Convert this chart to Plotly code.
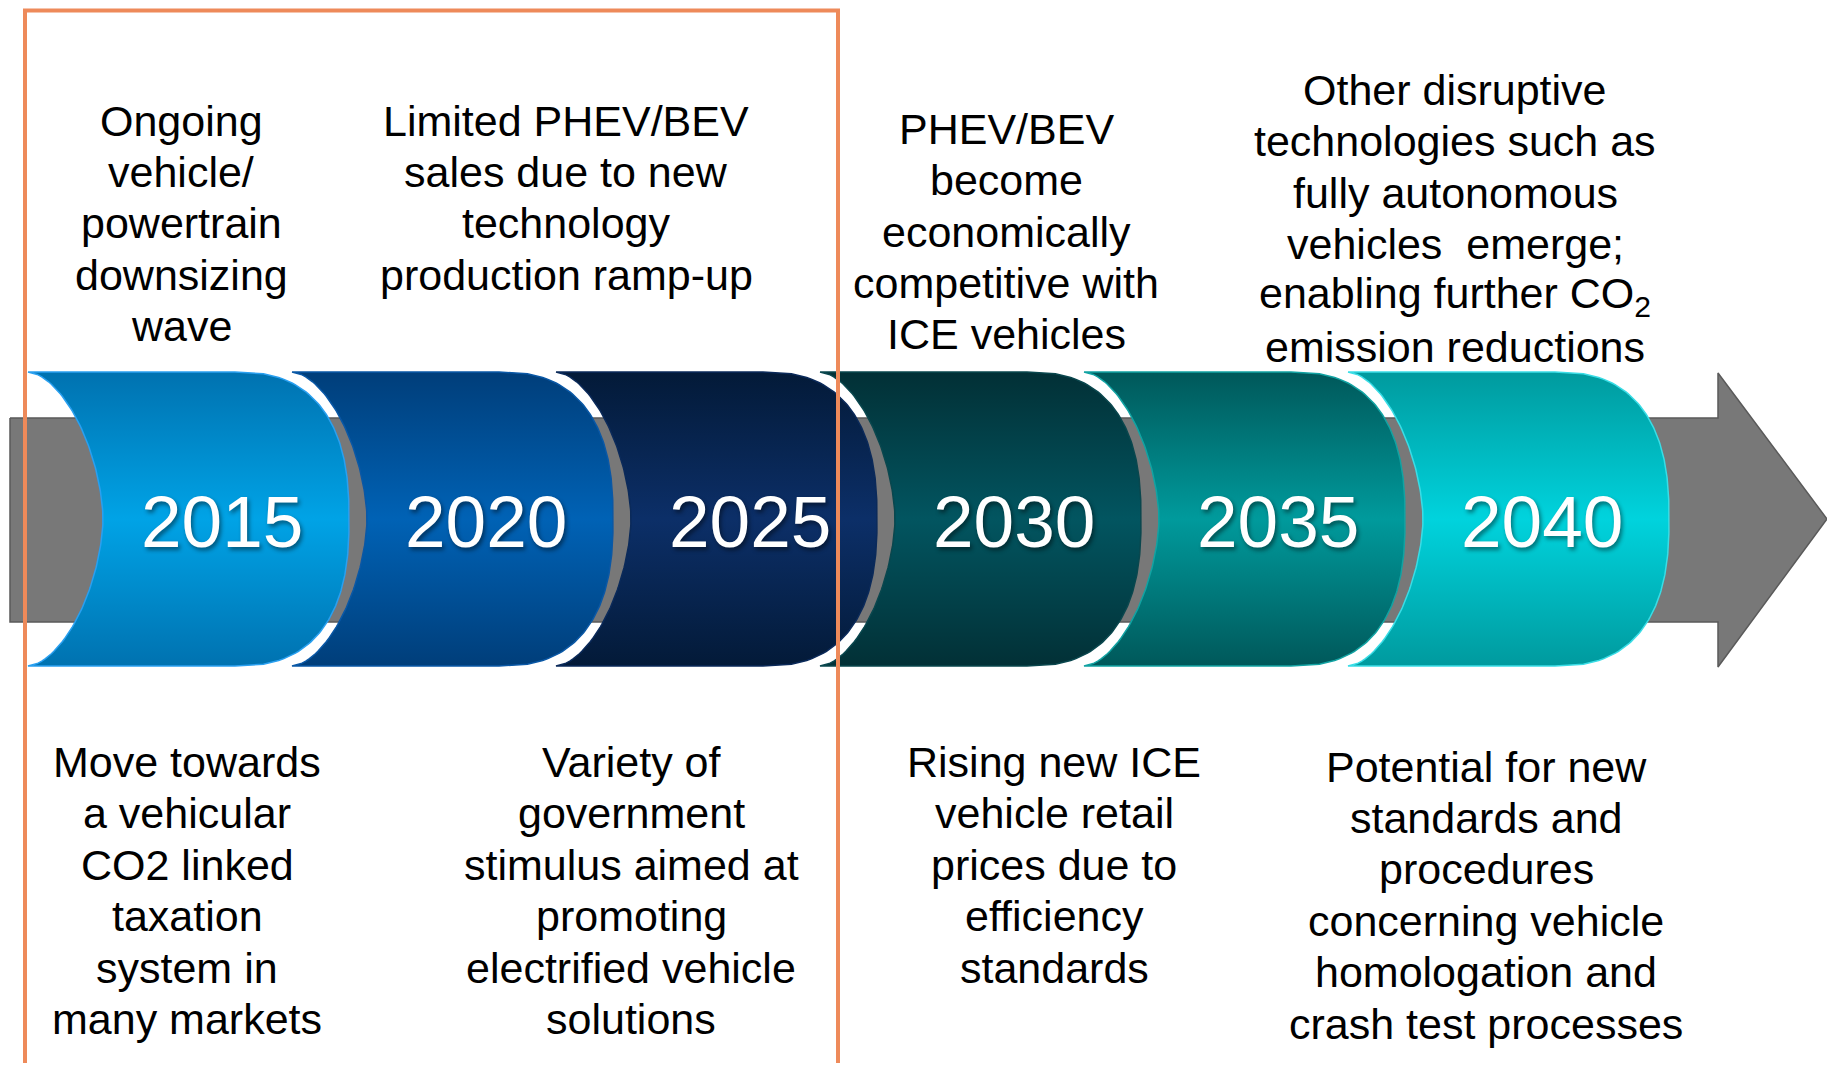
import numpy as np
import plotly.graph_objects as go

# ---------------- data ----------------
years = ["2015", "2020", "2025", "2030", "2035", "2040"]

top_notes = [
    ["Ongoing", "vehicle/", "powertrain", "downsizing", "wave"],
    ["Limited PHEV/BEV", "sales due to new", "technology", "production ramp-up"],
    ["PHEV/BEV", "become", "economically", "competitive with", "ICE vehicles"],
    ["Other disruptive", "technologies such as", "fully autonomous",
     "vehicles  emerge;", "enabling further CO<sub>2</sub>", "emission reductions"],
]

bottom_notes = [
    ["Move towards", "a vehicular", "CO2 linked", "taxation", "system in", "many markets"],
    ["Variety of", "government", "stimulus aimed at", "promoting",
     "electrified vehicle", "solutions"],
    ["Rising new ICE", "vehicle retail", "prices due to", "efficiency", "standards"],
    ["Potential for new", "standards and", "procedures", "concerning vehicle",
     "homologation and", "crash test processes"],
]

# ---------------- styles / layout constants ----------------
W, H = 1835, 1071
PAGE_MARGIN = 8   # default body margin of the html page
top_colors = ["#0072B0", "#003E7A", "#031A38", "#023036", "#00585A", "#009A9E"]
mid_colors = ["#00A3E6", "#0062B5", "#0C2F68", "#025560", "#009A9C", "#00D3DD"]
edge_colors = ["#2AA0F0", "#0A58A6", "#0B2A5A", "#0A474E", "#12A3A3", "#3ADDE6"]

X0 = 28          # left edge of first block
STEP = 264       # spacing between blocks
Y_TOP, Y_BOT = 372, 666
Y_MID = (Y_TOP + Y_BOT) / 2
HALF = (Y_BOT - Y_TOP) / 2
CONCAVE = 75     # concave depth of left side
TOTAL_W = 321    # width to the right-most point
CONVEX_A = 114   # convex horizontal radius
YEAR_DX = 194

top_pos = [(181, 120.5), (566, 120.5), (1006, 128.7), (1455, 90.0)]
bot_pos = [(187, 762.0), (631, 762.0), (1054, 762.0), (1486, 766.5)]
LINE_STEP = 51.4

fig = go.Figure()

# grey arrow behind
bar_top, bar_bot = 418, 622
head_x, tip_x = 1718, 1827
ax_ = [10, head_x, head_x, tip_x, head_x, head_x, 10, 10]
ay_ = [bar_top, bar_top, 373, Y_MID, 667, bar_bot, bar_bot, bar_top]
fig.add_trace(go.Scatter(x=ax_, y=ay_, mode="lines", fill="toself",
                         fillcolor="#787878", line=dict(color="#5A5A5A", width=1.5),
                         hoverinfo="skip", showlegend=False))


def block_path(x0):
    # left concave side (superellipse), top to bottom
    t = np.linspace(-1, 1, 121)
    n1 = 1.7
    lx = x0 + CONCAVE * (1 - np.abs(t) ** n1) ** (1 / n1)
    ly = Y_MID + HALF * t
    # right convex side (superellipse), bottom to top
    n2 = 2.5
    cx = x0 + TOTAL_W - CONVEX_A
    s = np.linspace(1, -1, 161)
    rx = cx + CONVEX_A * (1 - np.abs(s) ** n2) ** (1 / n2)
    ry = Y_MID + HALF * s
    xs = np.concatenate([lx, rx, [lx[0]]])
    ys = np.concatenate([ly, ry, [ly[0]]])
    return xs, ys


for i, yr in enumerate(years):
    x0 = X0 + i * STEP
    xs, ys = block_path(x0)
    fig.add_trace(go.Scatter(
        x=xs, y=ys, mode="lines", fill="toself",
        fillgradient=dict(type="vertical",
                          colorscale=[[0, top_colors[i]], [0.5, mid_colors[i]],
                                      [1, top_colors[i]]]),
        line=dict(color=edge_colors[i], width=1.5),
        hoverinfo="skip", showlegend=False))
    fig.add_annotation(x=x0 + YEAR_DX, y=Y_MID + 2, text=yr, showarrow=False,
                       xanchor="center", yanchor="middle",
                       font=dict(family="Liberation Sans, Arial", size=73, color="white",
                                 shadow="2px 3px 4px rgba(0,0,0,0.45)"))

FONT = dict(family="Liberation Sans, Arial", size=43, color="#000000")


def add_block(lines, pos):
    cx, cy = pos
    for k, ln in enumerate(lines):
        fig.add_annotation(x=cx, y=cy + k * LINE_STEP, text=ln, showarrow=False,
                           xanchor="center", yanchor="middle", font=FONT)


for lines, pos in zip(top_notes, top_pos):
    add_block(lines, pos)
for lines, pos in zip(bottom_notes, bot_pos):
    add_block(lines, pos)

# orange highlight frame
fig.add_shape(type="path", path="M 25 1090 L 25 10.5 L 838 10.5 L 838 1090",
              line=dict(color="#EE8A5A", width=4), layer="above")

# the html body has an 8px margin: map page pixels onto axis units
fig.update_xaxes(range=[PAGE_MARGIN, W - PAGE_MARGIN], visible=False, fixedrange=True)
fig.update_yaxes(range=[H - PAGE_MARGIN, PAGE_MARGIN], visible=False, fixedrange=True)
fig.update_layout(width=W - 2 * PAGE_MARGIN, height=H - 2 * PAGE_MARGIN,
                  margin=dict(l=0, r=0, t=0, b=0),
                  paper_bgcolor="white", plot_bgcolor="white", showlegend=False)

fig.write_html("out.html", config={"displayModeBar": False})
